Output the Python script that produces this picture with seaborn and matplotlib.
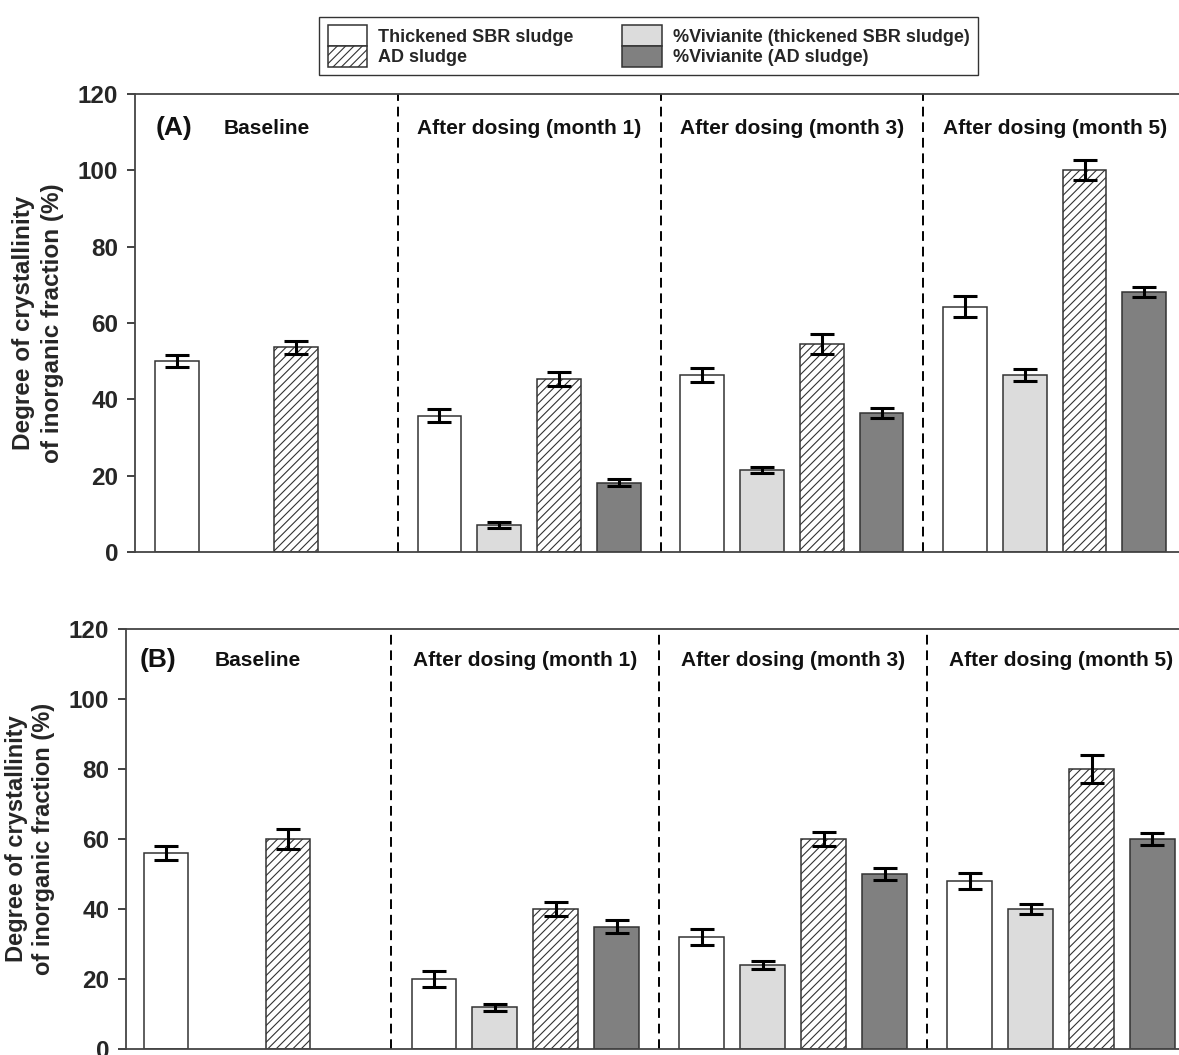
import numpy as np
import pandas as pd
import matplotlib
matplotlib.use("Agg")
import matplotlib.pyplot as plt
from matplotlib.patches import Patch
import seaborn as sns

# ---------------- data ----------------
groups = ["Baseline", "After dosing (month 1)", "After dosing (month 3)", "After dosing (month 5)"]
series = ["Thickened SBR sludge", "%Vivianite (thickened SBR sludge)", "AD sludge", "%Vivianite (AD sludge)"]

# Panel A values (per series, per group); NaN = no bar
a_sbr = [50.0, 35.7, 46.4, 64.3]
a_viv_sbr = [np.nan, 7.1, 21.5, 46.4]
a_ad = [53.6, 45.4, 54.5, 100.0]
a_viv_ad = [np.nan, 18.2, 36.3, 68.2]
a_sbr_err = [1.6, 1.7, 1.8, 2.8]
a_viv_sbr_err = [np.nan, 0.7, 0.8, 1.5]
a_ad_err = [1.8, 1.8, 2.7, 2.6]
a_viv_ad_err = [np.nan, 0.9, 1.3, 1.3]

# Panel B values
b_sbr = [56.0, 20.0, 32.0, 48.0]
b_viv_sbr = [np.nan, 12.0, 24.0, 40.0]
b_ad = [60.0, 40.0, 60.0, 80.0]
b_viv_ad = [np.nan, 35.0, 50.0, 60.0]
b_sbr_err = [2.1, 2.2, 2.3, 2.2]
b_viv_sbr_err = [np.nan, 1.0, 1.1, 1.4]
b_ad_err = [2.8, 1.9, 2.0, 3.9]
b_viv_ad_err = [np.nan, 1.9, 1.7, 1.8]

panel_labels = ["(A)", "(B)"]
ylabel = "Degree of crystallinity\nof inorganic fraction (%)"
yticks = [0, 20, 40, 60, 80, 100, 120]

colors = ["#ffffff", "#dcdcdc", "#ffffff", "#808080"]
hatches = [None, None, "////", None]
legend_order = [0, 2, 1, 3]

# ---------------- style ----------------
sns.set_style("ticks")
plt.rcParams["font.family"] = ["Liberation Sans", "DejaVu Sans"]
plt.rcParams["font.weight"] = "bold"
plt.rcParams["hatch.linewidth"] = 0.8
plt.rcParams["hatch.color"] = "#222222"


def make_df(vals, errs):
    rows = []
    for s, v_list, e_list in zip(series, vals, errs):
        for g, v, e in zip(groups, v_list, e_list):
            if not np.isnan(v):
                rows.append({"group": g, "series": s, "value": v, "err": e})
    return pd.DataFrame(rows)


df_a = make_df([a_sbr, a_viv_sbr, a_ad, a_viv_ad],
               [a_sbr_err, a_viv_sbr_err, a_ad_err, a_viv_ad_err])
df_b = make_df([b_sbr, b_viv_sbr, b_ad, b_viv_ad],
               [b_sbr_err, b_viv_sbr_err, b_ad_err, b_viv_ad_err])

W, H = 1179, 1055
fig = plt.figure(figsize=(W / 100, H / 100), dpi=100)

# axes rectangles in pixels: left, top, right, bottom
rects = [(135, 94, 1186, 552), (126, 629, 1195, 1049)]
xlims = [(-0.5, 3.5), (-0.49, 3.5)]
label_right_px = [64, 55]
label_size = [17.5, 17]
label_spacing = [1.33, 1.2]
panel_label_x = [-0.35, -0.37]

for k, (df, rect) in enumerate(zip([df_a, df_b], rects)):
    l, t, r, b = rect
    ax = fig.add_axes([l / W, (H - b) / H, (r - l) / W, (b - t) / H])
    sns.barplot(data=df, x="group", y="value", hue="series", order=groups,
                hue_order=series, palette=colors, errorbar=None,
                width=0.91, gap=0.27, edgecolor="#333333", linewidth=1.1,
                legend=False, ax=ax, zorder=2)
    bar_containers = list(ax.containers)
    # hatch + error bars
    for ci, cont in enumerate(bar_containers):
        s = series[ci]
        sub = df[df["series"] == s].set_index("group")
        xs, ys, es = [], [], []
        for bar in cont:
            if hatches[ci]:
                bar.set_hatch(hatches[ci])
            xc = bar.get_x() + bar.get_width() / 2
            gi = int(round(xc))
            g = groups[gi]
            xs.append(xc)
            ys.append(sub.loc[g, "value"])
            es.append(sub.loc[g, "err"])
        ax.errorbar(xs, ys, yerr=es, fmt="none", ecolor="black",
                    elinewidth=2.2, capsize=8.3, capthick=2.2, zorder=3)

    ax.set_xlim(*xlims[k])
    ax.set_ylim(0, 120)
    ax.set_yticks(yticks)
    ax.set_xticks([])
    ax.set_xlabel("")
    ax.set_ylabel(ylabel, fontsize=label_size[k], fontweight="bold",
                  linespacing=label_spacing[k])
    ax.yaxis.set_label_coords((label_right_px[k] - l) / (r - l), 0.5)
    ax.tick_params(axis="y", direction="out", length=6, width=1.3,
                   labelsize=17.5, pad=6, color="#333333")
    for lab in ax.get_yticklabels():
        lab.set_fontweight("bold")
    for side in ["left", "bottom", "top", "right"]:
        ax.spines[side].set_visible(True)
        ax.spines[side].set_color("#444444")
        ax.spines[side].set_linewidth(1.3)

    for xd in [0.5, 1.5, 2.5]:
        ax.axvline(xd, color="black", linestyle=(0, (5, 3)), linewidth=1.4, zorder=1)

    for gi, g in enumerate(groups):
        ax.text(gi, 111, g, ha="center", va="center", fontsize=15,
                fontweight="bold", color="#111111")
    ax.text(panel_label_x[k], 111, panel_labels[k], ha="center", va="center",
            fontsize=19, fontweight="bold", color="#111111")

# legend
handles = []
for i in legend_order:
    handles.append(Patch(facecolor=colors[i], edgecolor="#333333", linewidth=1.1,
                         hatch=hatches[i], label=series[i]))
leg = fig.legend(handles=handles, ncol=2, loc="center",
                 bbox_to_anchor=(648.5 / W, 1 - 46 / H),
                 frameon=True, fancybox=False,
                 edgecolor="black", handlelength=2.2, handleheight=1.4,
                 labelspacing=0.0, columnspacing=2.7, handletextpad=0.6,
                 borderpad=0.45, prop={"weight": "bold", "size": 13})
leg.get_frame().set_linewidth(1.0)

fig.savefig("out.png", dpi=100, facecolor="white")
